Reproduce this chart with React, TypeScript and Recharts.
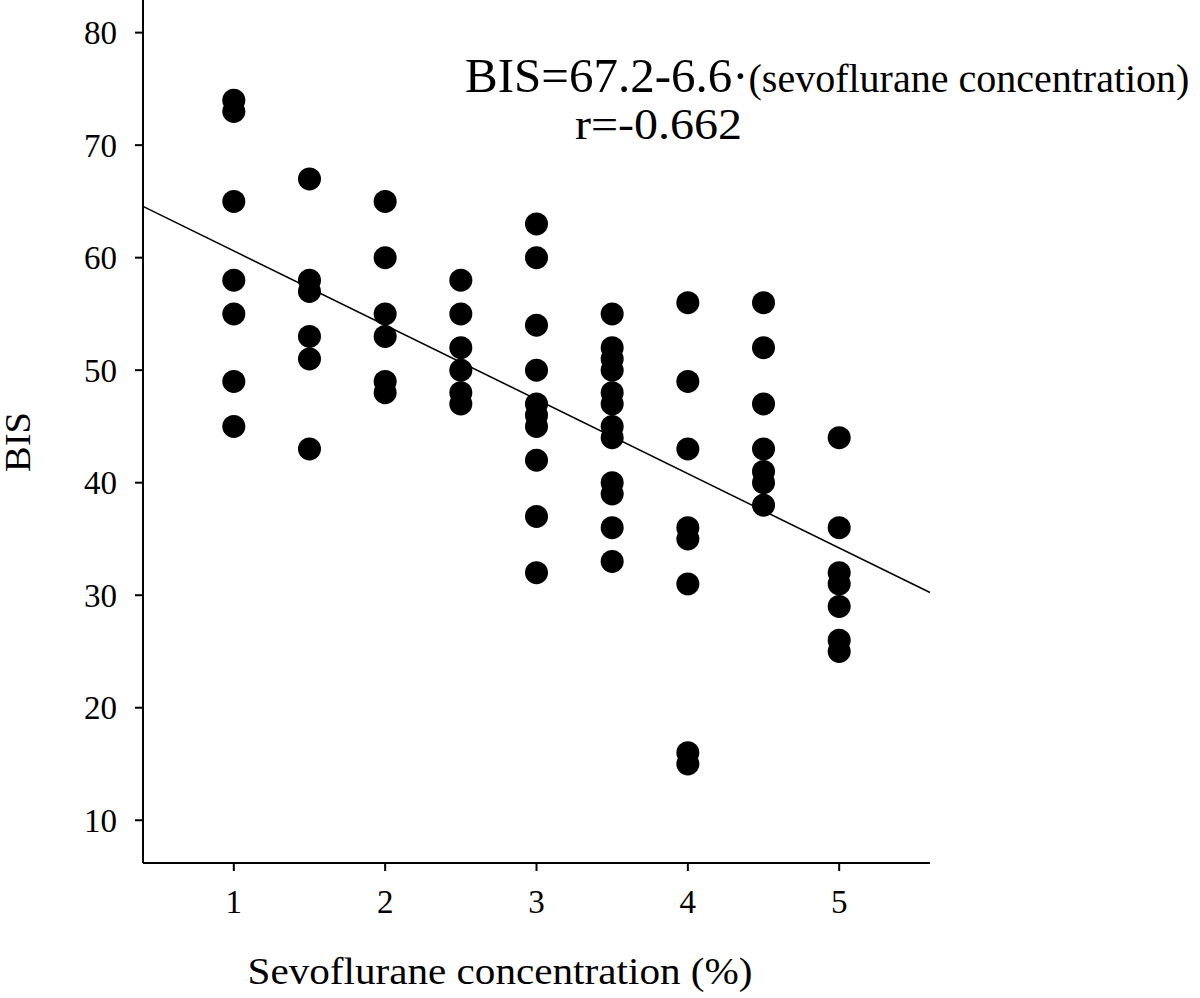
import { ScatterChart, Scatter, XAxis, YAxis, ReferenceLine } from "recharts";

// BIS readings per sevoflurane concentration step (%)
const concentrations = [1, 1.5, 2, 2.5, 3, 3.5, 4, 4.5, 5];
const bisValues: number[][] = [
  [74, 73, 65, 58, 55, 49, 45],
  [67, 58, 57, 53, 51, 43],
  [65, 60, 55, 53, 49, 48],
  [58, 55, 52, 50, 48, 47],
  [63, 60, 54, 50, 47, 46, 45, 42, 37, 32],
  [55, 52, 51, 50, 48, 47, 45, 44, 40, 39, 36, 33],
  [56, 49, 43, 36, 35, 31, 16, 15],
  [56, 52, 47, 43, 41, 40, 38],
  [44, 36, 32, 31, 29, 26, 25],
];

const xTicks = [1, 2, 3, 4, 5];
const yTicks = [10, 20, 30, 40, 50, 60, 70, 80];
const xDomain = [0.4, 5.6];
const yDomain = [6.2, 82.9];

// regression BIS = 67.2 - 6.6 * conc
const intercept = 67.2;
const slope = -6.6;

const points = concentrations.flatMap((c, i) =>
  bisValues[i].map((b) => ({ conc: c, bis: b }))
);

const FONT = "'Liberation Serif', 'Times New Roman', serif";

const Dot = (props: any) => {
  const { cx, cy } = props;
  if (cx == null || cy == null) return null;
  return <circle cx={cx} cy={cy} r={11.5} fill="#000" />;
};

const XTitle = () => (
  <text
    x={500}
    y={984}
    textAnchor="middle"
    fontFamily={FONT}
    fontSize={38}
    fill="#000"
    textLength={505}
    lengthAdjust="spacingAndGlyphs"
  >
    Sevoflurane concentration (%)
  </text>
);

const YTitle = () => (
  <text
    transform="translate(30, 442) rotate(-90)"
    textAnchor="middle"
    fontFamily={FONT}
    fontSize={35}
    fill="#000"
    textLength={60}
    lengthAdjust="spacingAndGlyphs"
  >
    BIS
  </text>
);

export default function App() {
  const fit = (x: number) => intercept + slope * x;
  return (
    <div style={{ position: "absolute", left: 0, top: 0, width: 1200, height: 998, background: "#fff" }}>
      <ScatterChart
        width={1200}
        height={998}
        margin={{ top: 0, right: 270, bottom: 0, left: 0 }}
      >
        <XAxis
          type="number"
          dataKey="conc"
          domain={xDomain}
          ticks={xTicks}
          height={135}
          axisLine={{ stroke: "#000", strokeWidth: 2 }}
          tickLine={{ stroke: "#000", strokeWidth: 2 }}
          tickSize={8}
          tickMargin={19}
          tick={{ fill: "#000", fontSize: 33, fontFamily: FONT }}
          label={{ content: <XTitle /> }}
        />
        <YAxis
          type="number"
          dataKey="bis"
          domain={yDomain}
          ticks={yTicks}
          width={143}
          axisLine={{ stroke: "#000", strokeWidth: 2 }}
          tickLine={{ stroke: "#000", strokeWidth: 2 }}
          tickSize={8}
          tickMargin={18}
          tick={{ fill: "#000", fontSize: 33, fontFamily: FONT }}
          label={{ content: <YTitle /> }}
        />
        <ReferenceLine
          segment={[
            { x: xDomain[0], y: fit(xDomain[0]) },
            { x: xDomain[1], y: fit(xDomain[1]) },
          ]}
          stroke="#000"
          strokeWidth={1.5}
        />
        <Scatter data={points} shape={<Dot />} isAnimationActive={false} />
      </ScatterChart>
      <svg
        width={1200}
        height={998}
        style={{ position: "absolute", left: 0, top: 0, pointerEvents: "none" }}
      >
        <text x={465} y={92} fontFamily={FONT} fill="#000">
          <tspan fontSize={49}>BIS=67.2-6.6·</tspan>
          <tspan fontSize={40}>(sevoflurane concentration)</tspan>
        </text>
        <text x={575} y={139} fontFamily={FONT} fill="#000" fontSize={45} textLength={167} lengthAdjust="spacingAndGlyphs">
          r=-0.662
        </text>
      </svg>
    </div>
  );
}
